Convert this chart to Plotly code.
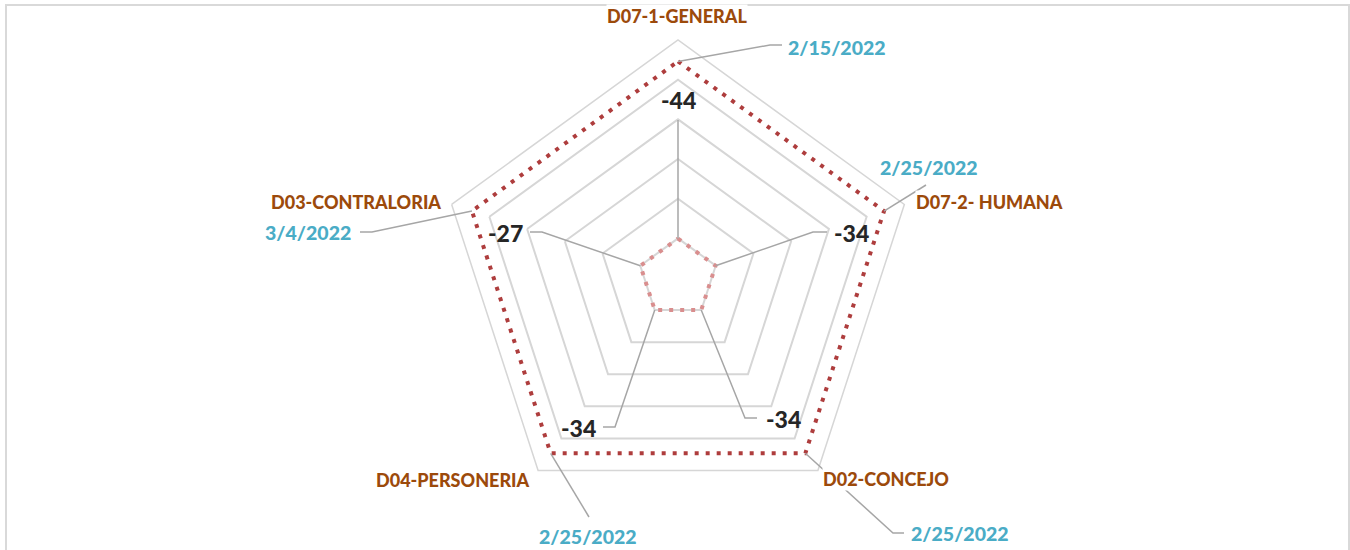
import math
import plotly.graph_objects as go

# ---------------- data ----------------
categories = ["D07-1-GENERAL", "D07-2- HUMANA", "D02-CONCEJO", "D04-PERSONERIA", "D03-CONTRALORIA"]
date_labels = ["2/15/2022", "2/25/2022", "2/25/2022", "2/25/2022", "3/4/2022"]
date_values = [44607, 44617, 44617, 44617, 44624]          # Excel serial dates
diff_values = [-44, -34, -34, -34, -27]
diff_labels = [str(v) for v in diff_values]
radial_ticks = [0, 10000, 20000, 30000, 40000, 50000]
radial_min, radial_max = -10000, 50000

# ---------------- layout geometry (pixels) ----------------
W, H = 1350, 550
CX, CY, R = 678, 278, 238

def to_px(value, i):
    frac = (value - radial_min) / (radial_max - radial_min)
    a = math.radians(360.0 / len(categories) * i)
    return CX + R * frac * math.sin(a), CY - R * frac * math.cos(a)

def paper(x, y):
    return x / W, 1 - y / H

fig = go.Figure()

def closed(seq):
    return list(seq) + [seq[0]]

fig.add_trace(go.Scatterpolar(
    r=closed(date_values), theta=closed(categories), mode="lines",
    line=dict(color="#ae3d3d", width=4, dash="4px,7px"),
    hoverinfo="skip", showlegend=False))
fig.add_trace(go.Scatterpolar(
    r=closed(diff_values), theta=closed(categories), mode="lines",
    line=dict(color="#d98e8e", width=4, dash="4px,7px"),
    hoverinfo="skip", showlegend=False))

dom_x = [(CX - R) / W, (CX + R) / W]
dom_y = [1 - (CY + R) / H, 1 - (CY - R) / H]

fig.update_layout(
    width=W, height=H,
    margin=dict(l=0, r=0, t=0, b=0),
    paper_bgcolor="white",
    polar=dict(
        domain=dict(x=dom_x, y=dom_y),
        bgcolor="white",
        gridshape="linear",
        radialaxis=dict(range=[radial_min, radial_max], tickvals=radial_ticks,
                        showticklabels=False, ticks="", showline=False,
                        showgrid=True, gridcolor="#d6d6d6", gridwidth=1.5),
        angularaxis=dict(type="category", rotation=90, direction="clockwise",
                         showticklabels=False, ticks="", showgrid=False,
                         showline=True, linecolor="#d6d6d6", linewidth=1.5),
    ),
)

# ---------------- labels & leader lines ----------------
DATE_COLOR = "#4aacc6"
CAT_COLOR = "#9c4a0b"
NUM_COLOR = "#262626"

# label centre positions and leader-line waypoints (pixels, label side)
date_label_pos = [(837, 47), (929, 167), (960, 533), (588, 536), (308, 232)]
date_leader = [[(770, 45), (782, 45)], [(926, 185)], [(893, 533), (904, 533)],
               [(589, 517)], [(372, 232), (360, 232)]]
diff_label_pos = [(678, 100), (852, 233), (783, 419), (578, 428), (505, 233)]
diff_leader = [[(678, 120)], [(813, 232), (827, 232)], [(745, 418), (757, 418)],
               [(615, 427), (603, 427)], [(542, 232), (530, 232)]]
cat_label_pos = [(677, 16), (989, 202), (886, 479), (453, 480), (356, 202)]

shapes = []
def leader(start, pts):
    p = [paper(*start)] + [paper(*q) for q in pts]
    path = "M {} {}".format(*p[0]) + "".join(" L {} {}".format(*q) for q in p[1:])
    shapes.append(dict(type="path", path=path, xref="paper", yref="paper",
                       line=dict(color="#a6a6a6", width=1.5), layer="above"))

for i in range(len(categories)):
    leader(to_px(date_values[i], i), date_leader[i])
    leader(to_px(diff_values[i], i), diff_leader[i])

# chart-area border
shapes.append(dict(type="rect", xref="paper", yref="paper",
                   x0=6 / W, x1=1349 / W, y0=-0.1, y1=1 - 5 / H,
                   line=dict(color="#d9d9d9", width=2), layer="below"))

annotations = []
def label(text, pos, color, size, bg=None):
    x, y = paper(*pos)
    d = dict(text=text, x=x, y=y, xref="paper", yref="paper", showarrow=False,
             xanchor="center", yanchor="middle",
             font=dict(family="Lato", size=size, color=color, weight=900))
    if bg:
        d.update(bgcolor=bg, borderpad=0)
    annotations.append(d)

for i in range(len(categories)):
    label(date_labels[i], date_label_pos[i], DATE_COLOR, 19.5)
    label(diff_labels[i], diff_label_pos[i], NUM_COLOR, 23)
for i in range(len(categories)):
    label(categories[i], cat_label_pos[i], CAT_COLOR, 18, bg="white")

fig.update_layout(shapes=shapes, annotations=annotations)
fig.write_html("out.html",
               config={"displayModeBar": False},
               post_script="document.body.style.margin='0';document.body.style.overflow='hidden';")
